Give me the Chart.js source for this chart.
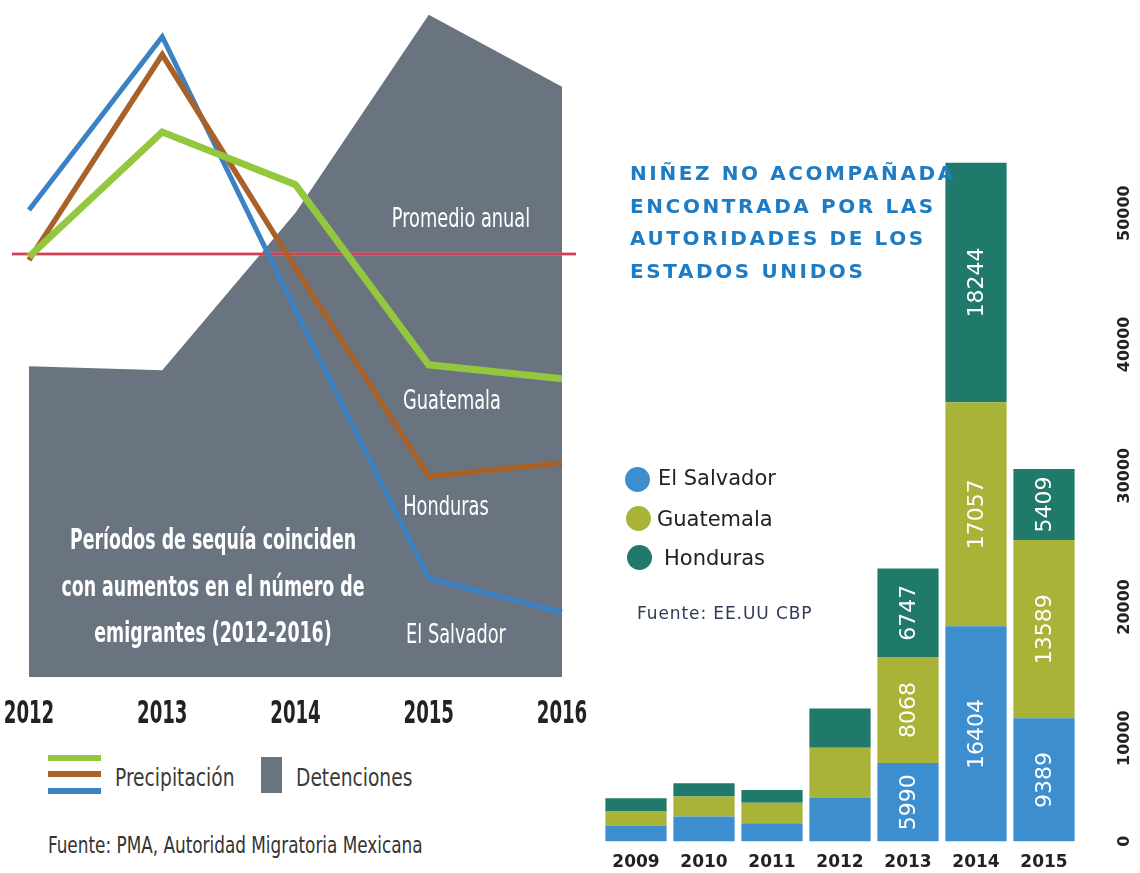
<!DOCTYPE html>
<html lang="es">
<head>
<meta charset="utf-8">
<title>Sequía y migración en Centroamérica</title>
<script src="https://cdn.jsdelivr.net/npm/chart.js@4.4.1/dist/chart.umd.min.js"></script>
<style>
  html, body { margin: 0; padding: 0; background: #fff; width: 1140px; height: 873px; overflow: hidden; }
  #page { position: relative; width: 1140px; height: 873px; }
  canvas { position: absolute; top: 0; }
  #lluvia { left: 0; }
  #ninez { left: 590px; }
  .txt { position: absolute; white-space: nowrap; line-height: 1; z-index: 2; }
  .cond { font-family: 'DejaVu Sans Condensed', 'Liberation Sans Narrow', sans-serif; }
  .blanco { color: #fff; font-size: 26px; transform: translate(-50%, -50%) scaleX(0.76); }
  .nota { color: #fff; font-size: 28px; font-weight: bold; line-height: 46.5px; text-align: center;
          transform: translate(-50%, -50%) scaleX(0.69); }
  .leyenda { color: #3a3a3a; font-size: 25px; transform-origin: left center; transform: translateY(-50%) scaleX(0.83); }
  .raya { position: absolute; left: 48px; width: 53px; height: 6px; }
  #titulo { position: absolute; left: 630px; top: 157px; font-family: 'DejaVu Sans', sans-serif; font-weight: bold;
            font-size: 20px; letter-spacing: 2.6px; line-height: 32.5px; color: #1d7cc3; z-index: 2; }
  .punto { position: absolute; width: 25px; height: 25px; border-radius: 50%; z-index: 2; }
  .pais { font-family: 'DejaVu Sans', sans-serif; font-size: 21px; color: #222; transform: translateY(-50%); }
</style>
</head>
<body>
<div id="page">
  <canvas id="lluvia" width="590" height="751"></canvas>
  <canvas id="ninez" width="550" height="884"></canvas>

  <!-- rótulos sobre el área de detenciones -->
  <div class="txt cond blanco" style="left:461px; top:218px;">Promedio anual</div>
  <div class="txt cond blanco" style="left:452px; top:400px;">Guatemala</div>
  <div class="txt cond blanco" style="left:446px; top:506px;">Honduras</div>
  <div class="txt cond blanco" style="left:456px; top:634px;">El Salvador</div>
  <div class="txt cond nota" style="left:213px; top:587px;">Períodos de sequía coinciden<br>con aumentos en el número de<br>emigrantes (2012-2016)</div>

  <!-- leyenda izquierda -->
  <div class="raya" style="top:755px; background:#93c83e;"></div>
  <div class="raya" style="top:771px; background:#a9612a;"></div>
  <div class="raya" style="top:788px; background:#3a82c4;"></div>
  <div class="txt cond leyenda" style="left:115px; top:777px;">Precipitación</div>
  <div style="position:absolute; left:261px; top:757px; width:21px; height:36px; background:#6a7480;"></div>
  <div class="txt cond leyenda" style="left:296px; top:777px;">Detenciones</div>
  <div class="txt cond leyenda" style="left:48px; top:845px; font-size:23px; color:#333; transform: translateY(-50%) scaleX(0.815);">Fuente: PMA, Autoridad Migratoria Mexicana</div>

  <!-- panel derecho -->
  <div id="titulo">NIÑEZ NO ACOMPAÑADA<br>ENCONTRADA POR LAS<br>AUTORIDADES DE LOS<br>ESTADOS UNIDOS</div>
  <div class="punto" style="left:625px; top:467px; background:#3d8ecf;"></div>
  <div class="punto" style="left:626px; top:506px; background:#a8b337;"></div>
  <div class="punto" style="left:627px; top:545px; background:#1f7a6b;"></div>
  <div class="txt pais" style="left:658px; top:478px;">El Salvador</div>
  <div class="txt pais" style="left:657px; top:519px;">Guatemala</div>
  <div class="txt pais" style="left:664px; top:558px;">Honduras</div>
  <div class="txt pais" style="left:637px; top:613px; font-size:17px; letter-spacing:0.9px; color:#2d3b57;">Fuente: EE.UU CBP</div>
</div>

<script>
// Precipitación (índice) y detenciones en México, 2012-2016
const anios = ['2012', '2013', '2014', '2015', '2016'];
const precGuatemala = [63.0, 81.7, 73.8, 46.8, 44.7];
const precHonduras = [62.5, 93.3, 61.3, 30.1, 32.1];
const precElSalvador = [70.0, 96.0, 55.0, 14.8, 9.7];
const detenciones = [46.6, 46.0, 69.6, 99.3, 88.5];
const promedioAnual = 63.4;

// Niñez no acompañada, EE.UU. CBP, años fiscales 2009-2015
const anosFiscales = ['2009', '2010', '2011', '2012', '2013', '2014', '2015'];
const ninezElSalvador = [1221, 1910, 1394, 3314, 5990, 16404, 9389];
const ninezGuatemala = [1115, 1517, 1565, 3835, 8068, 17057, 13589];
const ninezHonduras = [968, 1017, 974, 2997, 6747, 18244, 5409];
const ticksNinez = [0, 10000, 20000, 30000, 40000, 50000];
const anosConCifra = ['2013', '2014', '2015'];

const fuenteAngosta = "'DejaVu Sans Condensed', 'Liberation Sans Narrow', sans-serif";

// línea roja del promedio anual, justo encima del área gris
const lineaPromedio = {
  id: 'lineaPromedio',
  afterDatasetDraw(chart, args) {
    if (chart.data.datasets[args.index].label !== 'Detenciones') return;
    const {ctx, chartArea} = chart;
    const y = chart.scales.y.getPixelForValue(promedioAnual);
    ctx.save();
    ctx.strokeStyle = 'rgba(222, 110, 125, 0.5)';
    ctx.lineWidth = 4;
    ctx.beginPath();
    ctx.moveTo(chartArea.left - 17, y);
    ctx.lineTo(chartArea.right + 14, y);
    ctx.stroke();
    ctx.strokeStyle = '#d33f55';
    ctx.lineWidth = 2;
    ctx.stroke();
    ctx.restore();
  }
};

// años bajo el gráfico, en letra angosta y gruesa
const anosAbajo = {
  id: 'anosAbajo',
  afterDraw(chart) {
    const {ctx, chartArea} = chart;
    const x = chart.scales.x;
    ctx.save();
    ctx.fillStyle = '#222';
    ctx.font = 'bold 32px ' + fuenteAngosta;
    ctx.textAlign = 'center';
    ctx.textBaseline = 'middle';
    x.ticks.forEach((t, i) => {
      ctx.save();
      ctx.translate(x.getPixelForTick(i), chartArea.bottom + 38);
      ctx.scale(0.63, 1);
      ctx.fillText(x.getLabelForValue(t.value), 0, 0);
      ctx.restore();
    });
    ctx.restore();
  }
};

const linea = (label, data, color, ancho, orden) => ({
  label, data,
  borderColor: color,
  borderWidth: ancho,
  borderJoinStyle: 'miter',
  borderCapStyle: 'butt',
  pointRadius: 0,
  tension: 0,
  fill: false,
  order: orden
});

new Chart(document.getElementById('lluvia'), {
  type: 'line',
  data: {
    labels: anios,
    datasets: [
      linea('Guatemala', precGuatemala, '#93c83e', 7, 0),
      linea('Honduras', precHonduras, '#a9612a', 5.5, 1),
      linea('El Salvador', precElSalvador, '#3a82c4', 5, 2),
      {
        label: 'Detenciones',
        data: detenciones,
        backgroundColor: '#6a7480',
        borderWidth: 0,
        pointRadius: 0,
        tension: 0,
        fill: 'start',
        order: 3
      }
    ]
  },
  options: {
    responsive: false,
    animation: false,
    layout: { padding: { left: 29, right: 28, top: 10, bottom: 74 } },
    plugins: { legend: { display: false }, tooltip: { enabled: false } },
    scales: {
      x: { display: false },
      y: { display: false, min: 0, max: 100 }
    }
  },
  plugins: [lineaPromedio, anosAbajo]
});

// cifras verticales dentro de cada tramo de las barras
const cifrasBarras = {
  id: 'cifrasBarras',
  afterDatasetsDraw(chart) {
    const {ctx} = chart;
    ctx.save();
    ctx.fillStyle = '#fff';
    ctx.font = "22px 'DejaVu Sans', sans-serif";
    ctx.textAlign = 'center';
    ctx.textBaseline = 'middle';
    chart.data.datasets.forEach((ds, i) => {
      chart.getDatasetMeta(i).data.forEach((bar, j) => {
        if (!anosConCifra.includes(chart.data.labels[j])) return;
        ctx.save();
        ctx.translate(bar.x, (bar.y + bar.base) / 2);
        ctx.rotate(-Math.PI / 2);
        ctx.fillText(String(ds.data[j]), 0, 1);
        ctx.restore();
      });
    });
    ctx.restore();
  }
};

// eje derecho con rótulos girados
const ejeDerecho = {
  id: 'ejeDerecho',
  afterDraw(chart) {
    const {ctx, chartArea} = chart;
    const y = chart.scales.y;
    ctx.save();
    ctx.fillStyle = '#222';
    ctx.font = "bold 16px 'DejaVu Sans', sans-serif";
    ctx.textAlign = 'right';
    ctx.textBaseline = 'middle';
    ticksNinez.forEach(v => {
      ctx.save();
      ctx.translate(chartArea.right + 47, y.getPixelForValue(v));
      ctx.rotate(-Math.PI / 2);
      ctx.fillText(String(v), v === 0 ? 6 : 0, 0);
      ctx.restore();
    });
    ctx.restore();
  }
};

const tramo = (label, data, color) => ({
  label, data,
  backgroundColor: color,
  borderWidth: 0,
  barPercentage: 0.9,
  categoryPercentage: 1.0
});

new Chart(document.getElementById('ninez'), {
  type: 'bar',
  data: {
    labels: anosFiscales,
    datasets: [
      tramo('El Salvador', ninezElSalvador, '#3d8ecf'),
      tramo('Guatemala', ninezGuatemala, '#a8b337'),
      tramo('Honduras', ninezHonduras, '#1f7a6b')
    ]
  },
  options: {
    responsive: false,
    animation: false,
    layout: { padding: { left: 12, right: 62, top: 159, bottom: 0 } },
    plugins: { legend: { display: false }, tooltip: { enabled: false } },
    scales: {
      x: {
        stacked: true,
        grid: { display: false, drawTicks: false },
        border: { display: false },
        ticks: { color: '#222', padding: 11, font: { family: "'DejaVu Sans', sans-serif", size: 17, weight: 'bold' } }
      },
      y: { stacked: true, display: false, min: 0, max: 52000 }
    }
  },
  plugins: [cifrasBarras, ejeDerecho]
});
</script>
</body>
</html>
